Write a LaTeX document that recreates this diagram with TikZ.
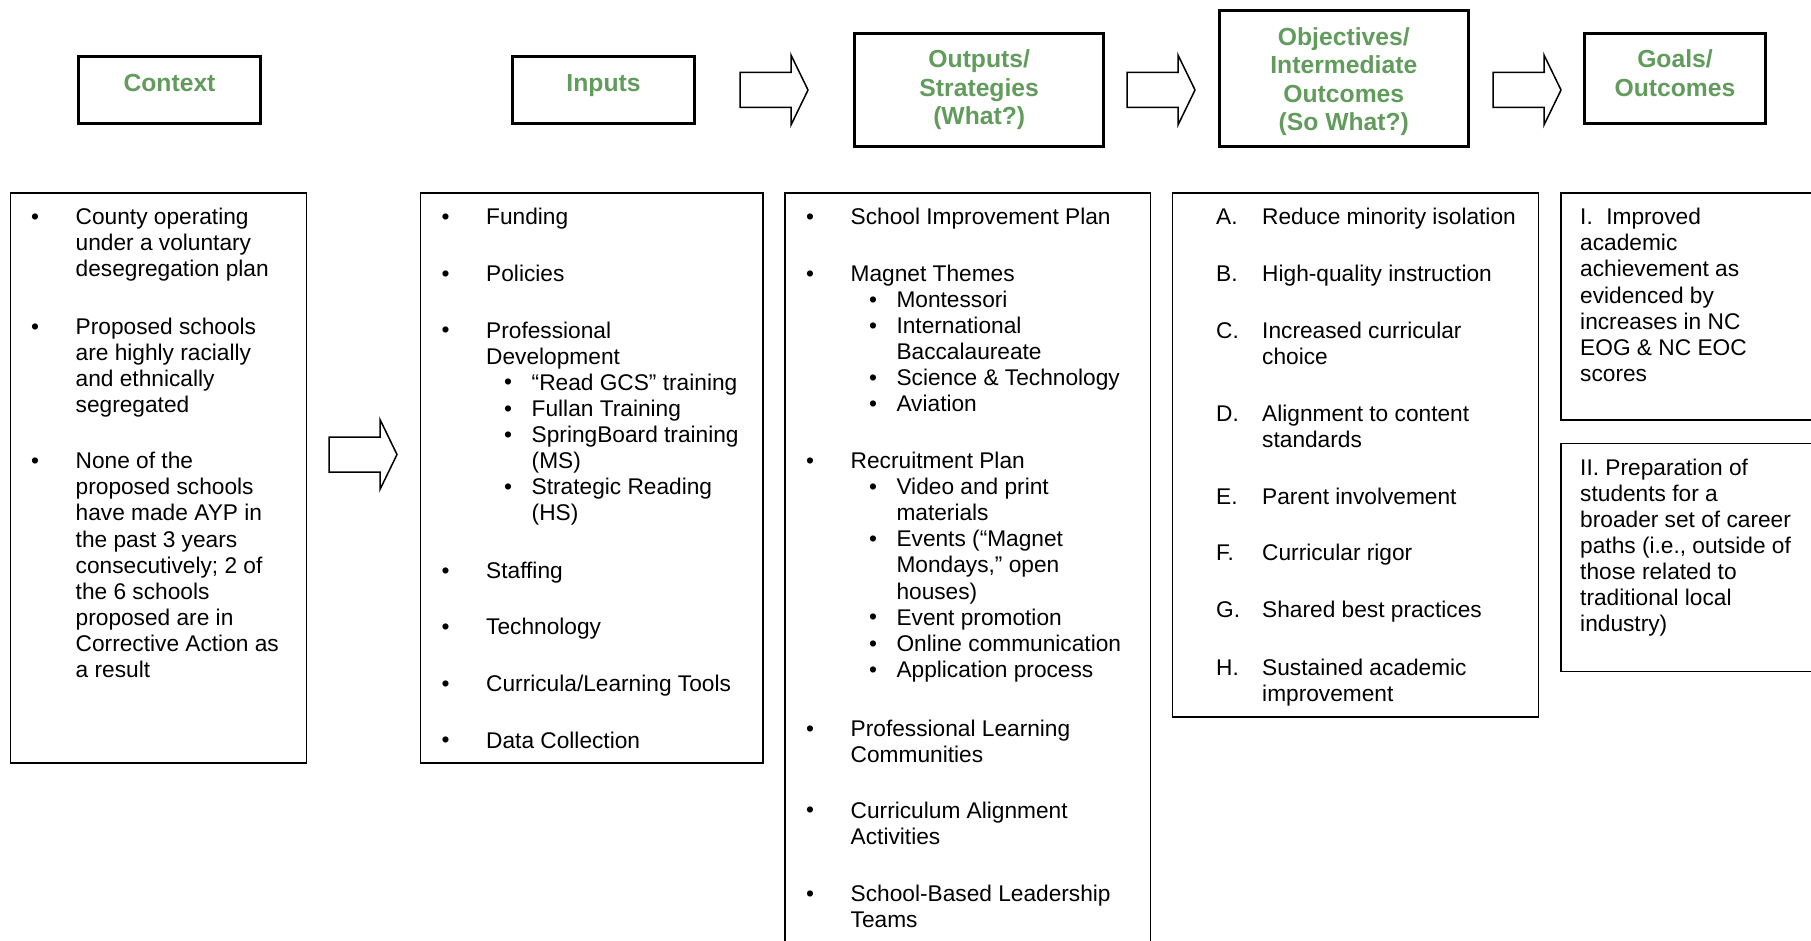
\documentclass[tikz,border=0pt]{standalone}
\usepackage{fontspec}
\setmainfont{Liberation Sans}
\definecolor{hgreen}{RGB}{98,156,92}
\newcommand\BL[3]{\node[bul] (#1) at (#2,#3) {•};}
\newcommand\TX[4]{\node[btext] (#1) at (#2,{#3-18.27}) {\strut #4};}
\newcommand\HT[4]{\node[htext] (#1) at (#2,{#3-20.02}) {\strut #4};}
\newcommand\BA[2]{\draw[barrow,shift={(#1,#2)}] (0,-17.5) -- (51,-17.5) -- (51,-35) -- (68,0) -- (51,35) -- (51,17.5) -- (0,17.5) -- cycle;}
\begin{document}
\begin{tikzpicture}[x=1pt,y=-1pt,
  hbox/.style={draw, line width=3.3pt, inner sep=0pt},
  cbox/.style={draw, line width=1.6pt},
  htext/.style={font=\bfseries\fontsize{24.7}{28.6}\selectfont, text=hgreen, align=center, anchor=north, inner sep=0pt},
  btext/.style={font=\fontsize{22.7}{26.1}\selectfont, align=left, anchor=north west, inner sep=0pt},
  bul/.style={font=\fontsize{22.7}{26.1}\selectfont, anchor=base, inner sep=0pt},
  barrow/.style={draw, line width=1.5pt, fill=white, line join=miter},
]
\useasboundingbox (0,0) rectangle (1811,941);
\fill[white] (0,0) rectangle (1811,941);

% header boxes
\node[hbox, minimum width=181.7pt, minimum height=66.7pt] (hctx) at (169.5,90) {};
\node[hbox, minimum width=181.7pt, minimum height=66.7pt] (hin) at (603.5,90) {};
\node[hbox, minimum width=249.2pt, minimum height=112.7pt] (hout) at (979.2,90) {};
\node[hbox, minimum width=249.1pt, minimum height=135.7pt] (hobj) at (1343.8,78.5) {};
\node[hbox, minimum width=180.7pt, minimum height=89.7pt] (hgoal) at (1675,78.5) {};

\HT{hct}{169.5}{91}{Context}
\HT{hit}{603.5}{91}{Inputs}
\HT{hot}{979.2}{67.5}{Outputs/\\Strategies\\(What?)}
\HT{hobt}{1343.8}{45}{Objectives/\\Intermediate\\Outcomes\\(So What?)}
\HT{hgt}{1675}{67.5}{Goals/\\Outcomes}

% block arrows
\BA{740}{90}
\BA{1127}{90}
\BA{1493}{90}
\BA{329}{454.5}

% content boxes
\draw[cbox] (10.5,193) rectangle (306.5,763);
\draw[cbox] (420.5,193) rectangle (763,763);
\draw[cbox] (785,943) -- (785,193) -- (1150.5,193) -- (1150.5,943);
\draw[cbox] (1172.5,193) rectangle (1538.5,717);
\draw[cbox] (1813,193) -- (1561,193) -- (1561,420) -- (1813,420);
\draw[cbox] (1813,443.5) -- (1561,443.5) -- (1561,671.5) -- (1813,671.5);

% context
\BL{cb1}{35}{224.5}\TX{ct1}{75.5}{224.5}{County operating\\under a voluntary\\desegregation plan}
\BL{cb2}{35}{334.2}\TX{ct2}{75.5}{334.2}{Proposed schools\\are highly racially\\and ethnically\\segregated}
\BL{cb3}{35}{468.5}\TX{ct3}{75.5}{468.5}{None of the\\proposed schools\\have made AYP in\\the past 3 years\\consecutively; 2 of\\the 6 schools\\proposed are in\\Corrective Action as\\a result}

% inputs
\BL{ib1}{445.5}{224.5}\TX{it1}{486}{224.5}{Funding}
\BL{ib2}{445.5}{281.2}\TX{it2}{486}{281.2}{Policies}
\BL{ib3}{445.5}{337.8}\TX{it3}{486}{337.8}{Professional\\Development}
\BL{is1}{508}{389.9}\TX{ist1}{531.5}{389.9}{“Read GCS” training}
\BL{is2}{508}{416}\TX{ist2}{531.5}{416}{Fullan Training}
\BL{is3}{508}{442.1}\TX{ist3}{531.5}{442.1}{SpringBoard training\\(MS)}
\BL{is4}{508}{494.3}\TX{ist4}{531.5}{494.3}{Strategic Reading\\(HS)}
\BL{ib4}{445.5}{578}\TX{it4}{486}{578}{Staffing}
\BL{ib5}{445.5}{634.6}\TX{it5}{486}{634.6}{Technology}
\BL{ib6}{445.5}{691.2}\TX{it6}{486}{691.2}{Curricula/Learning Tools}
\BL{ib7}{445.5}{747.8}\TX{it7}{486}{747.8}{Data Collection}

% outputs
\BL{ob1}{810}{224.5}\TX{ot1}{850.5}{224.5}{School Improvement Plan}
\BL{ob2}{810}{281.2}\TX{ot2}{850.5}{281.2}{Magnet Themes}
\BL{os1}{873}{307.3}\TX{ost1}{896.3}{307.3}{Montessori}
\BL{os2}{873}{333.4}\TX{ost2}{896.3}{333.4}{International\\Baccalaureate}
\BL{os3}{873}{385.6}\TX{ost3}{896.3}{385.6}{Science \& Technology}
\BL{os4}{873}{411.7}\TX{ost4}{896.3}{411.7}{Aviation}
\BL{ob3}{810}{468.3}\TX{ot3}{850.5}{468.3}{Recruitment Plan}
\BL{os5}{873}{494.4}\TX{ost5}{896.3}{494.4}{Video and print\\materials}
\BL{os6}{873}{546.6}\TX{ost6}{896.3}{546.6}{Events (“Magnet\\Mondays,” open\\houses)}
\BL{os7}{873}{624.9}\TX{ost7}{896.3}{624.9}{Event promotion}
\BL{os8}{873}{651}\TX{ost8}{896.3}{651}{Online communication}
\BL{os9}{873}{677.1}\TX{ost9}{896.3}{677.1}{Application process}
\BL{ob4}{810}{736.2}\TX{ot4}{850.5}{736.2}{Professional Learning\\Communities}
\BL{ob5}{810}{817.8}\TX{ot5}{850.5}{817.8}{Curriculum Alignment\\Activities}
\BL{ob6}{810}{901.2}\TX{ot6}{850.5}{901.2}{School-Based Leadership\\Teams}

% objectives
\TX{la}{1216}{224.5}{A.}\TX{oa}{1262}{224.5}{Reduce minority isolation}
\TX{lb}{1216}{281.2}{B.}\TX{obb}{1262}{281.2}{High-quality instruction}
\TX{lc}{1216}{337.8}{C.}\TX{oc}{1262}{337.8}{Increased curricular\\choice}
\TX{ld}{1216}{420.8}{D.}\TX{od}{1262}{420.8}{Alignment to content\\standards}
\TX{le}{1216}{503.8}{E.}\TX{oe}{1262}{503.8}{Parent involvement}
\TX{lf}{1216}{560.6}{F.}\TX{of}{1262}{560.6}{Curricular rigor}
\TX{lg}{1216}{617.3}{G.}\TX{og}{1262}{617.3}{Shared best practices}
\TX{lh}{1216}{675.2}{H.}\TX{oh}{1262}{675.2}{Sustained academic\\improvement}

% goals
\TX{g1t}{1580}{224.5}{I.\hspace{13.5pt}Improved\\academic\\achievement as\\evidenced by\\increases in NC\\EOG \& NC EOC\\scores}
\TX{g2t}{1580}{475}{II. Preparation of\\students for a\\broader set of career\\paths (i.e., outside of\\those related to\\traditional local\\industry)}
\end{tikzpicture}
\end{document}
